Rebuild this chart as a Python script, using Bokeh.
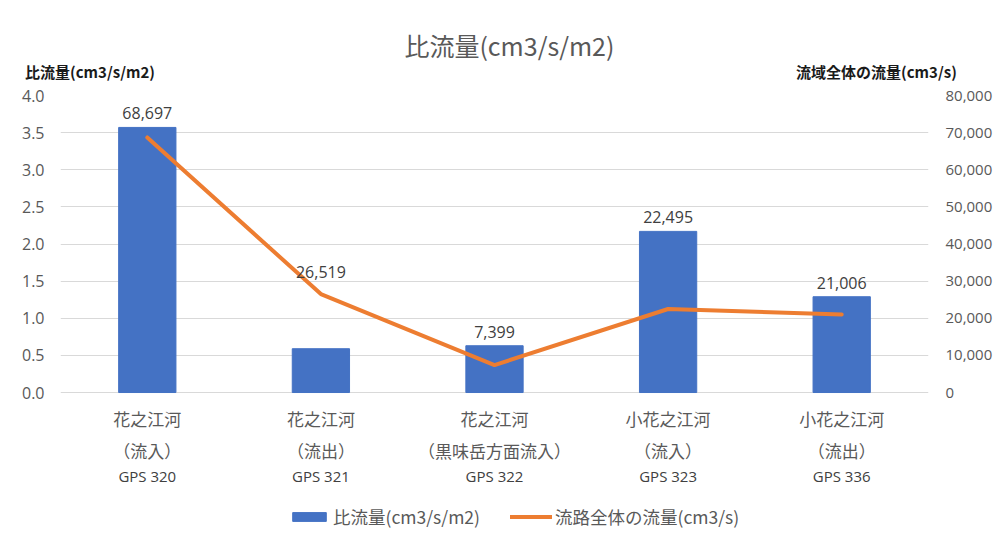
from bokeh.plotting import figure
from bokeh.models import (Range1d, LinearAxis, FixedTicker,
                          NumeralTickFormatter, ColumnDataSource)
from bokeh.core.properties import value
from bokeh.embed import file_html
from bokeh.resources import INLINE

# ---- data ----
gps = ["GPS 320", "GPS 321", "GPS 322", "GPS 323", "GPS 336"]
river = ["花之江河", "花之江河", "花之江河", "小花之江河", "小花之江河"]
place = ["（流入）", "（流出）", "（黒味岳方面流入）", "（流入）", "（流出）"]
ratio = [3.57, 0.59, 0.63, 2.17, 1.29]          # 比流量 (cm3/s/m2)
flow = [68697, 26519, 7399, 22495, 21006]       # 流路全体の流量 (cm3/s)
left_ticks = [0.0, 0.5, 1.0, 1.5, 2.0, 2.5, 3.0, 3.5, 4.0]
right_ticks = [0, 10000, 20000, 30000, 40000, 50000, 60000, 70000, 80000]

title_text = "比流量(cm3/s/m2)"
left_title = "比流量(cm3/s/m2)"
right_title = "流域全体の流量(cm3/s)"
bar_legend = "比流量(cm3/s/m2)"
line_legend = "流路全体の流量(cm3/s)"

JP = "Noto Sans CJK JP"
NUM = "Open Sans"
BLUE = "#4472C4"
ORANGE = "#ED7D31"
GRAY = "#595959"

L_MAX = 4.0
R_MAX = 80000
scale = R_MAX / L_MAX
L_MIN = -1.939                     # frame continues below zero for the labels
n = len(gps)
xc = [i + 0.5 for i in range(n)]   # category centres on the x scale

p = figure(width=995, height=536, x_range=Range1d(0, n),
           y_range=Range1d(L_MIN, L_MAX), output_backend="svg",
           toolbar_location=None, title_location=None, x_axis_location=None,
           min_border_left=60, min_border_right=65,
           min_border_top=95, min_border_bottom=0)
p.outline_line_color = None
p.background_fill_color = "white"
p.border_fill_color = "white"
p.extra_y_ranges = {"flow": Range1d(L_MIN * scale, R_MAX)}

# grid
p.xgrid.grid_line_color = None
p.ygrid.grid_line_color = "#d9d9d9"
p.ygrid.grid_line_width = 1
p.yaxis.ticker = FixedTicker(ticks=left_ticks)

def quiet(ax):
    ax.axis_line_color = None
    ax.major_tick_line_color = None
    ax.minor_tick_line_color = None
    ax.major_tick_in = 0
    ax.major_tick_out = 0

# left axis
ya = p.yaxis[0]
ya.formatter = NumeralTickFormatter(format="0.0")
quiet(ya)
ya.major_label_standoff = 16
ya.major_label_text_font = NUM
ya.major_label_text_font_size = "16px"
ya.major_label_text_color = GRAY

# right axis
ra = LinearAxis(y_range_name="flow", ticker=FixedTicker(ticks=right_ticks),
                formatter=NumeralTickFormatter(format="0,0"))
quiet(ra)
ra.major_label_standoff = 17
ra.major_label_text_font = NUM
ra.major_label_text_font_size = "15px"
ra.major_label_text_color = GRAY
p.add_layout(ra, "right")

# axis titles row (above the frame)
xl, xr = 0.17, 4.70
ta = LinearAxis(ticker=FixedTicker(ticks=[xl, xr]),
                major_label_overrides={xl: left_title, xr: right_title})
quiet(ta)
ta.major_label_standoff = 14
ta.major_label_text_font = JP
ta.major_label_text_font_size = "15px"
ta.major_label_text_font_style = "bold"
ta.major_label_text_color = "#1a1a1a"
p.add_layout(ta, "above")

# chart title row
xt = 2.586
tb = LinearAxis(ticker=FixedTicker(ticks=[xt]),
                major_label_overrides={xt: title_text})
quiet(tb)
tb.major_label_standoff = -5
tb.major_label_text_font = JP
tb.major_label_text_font_size = "25px"
tb.major_label_text_color = GRAY
p.add_layout(tb, "above")

src = ColumnDataSource(dict(x=xc, gps=gps, ratio=ratio, flow=flow))
p.vbar(x="x", top="ratio", width=0.33, source=src, fill_color=BLUE,
       line_color=BLUE, legend_label=bar_legend)
p.line(x="x", y="flow", y_range_name="flow", source=src, line_color=ORANGE,
       line_width=4, line_cap="round", line_join="round", legend_label=line_legend)

# data labels: above the bar, or above the line point when that is higher
lab_y = [r + 0.11 if r >= f / scale else f / scale + 0.21
         for r, f in zip(ratio, flow)]
lab_t = [f"{f:,}" for f in flow]
p.text(x=xc, y=lab_y, text=lab_t, text_align="center", text_baseline="bottom",
       text_font=value(NUM), text_font_size="16px", text_color="#404040")

# category labels (three lines under each bar)
p.text(x=xc, y=[-0.35] * n, text=river, text_align="center",
       text_baseline="middle", text_font=value(JP), text_font_size="17px",
       text_color=GRAY)
p.text(x=xc, y=[-0.78] * n, text=place, text_align="center",
       text_baseline="middle", text_font=value(JP), text_font_size="17px",
       text_color=GRAY)
p.text(x=xc, y=[-1.13] * n, text=gps, text_align="center",
       text_baseline="middle", text_font=value(NUM), text_font_size="15px",
       text_color="#404040")

# legend
lg = p.legend[0]
lg.orientation = "horizontal"
lg.location = (228, 7)
lg.padding = 0
lg.margin = 0
lg.spacing = 30
lg.glyph_width = 42
lg.glyph_height = 11
lg.label_standoff = 3
lg.label_height = 22
lg.border_line_color = None
lg.background_fill_alpha = 0
lg.label_text_font = JP
lg.label_text_font_size = "17.5px"
lg.label_text_color = GRAY

open("out.html", "w").write(file_html(p, INLINE))
